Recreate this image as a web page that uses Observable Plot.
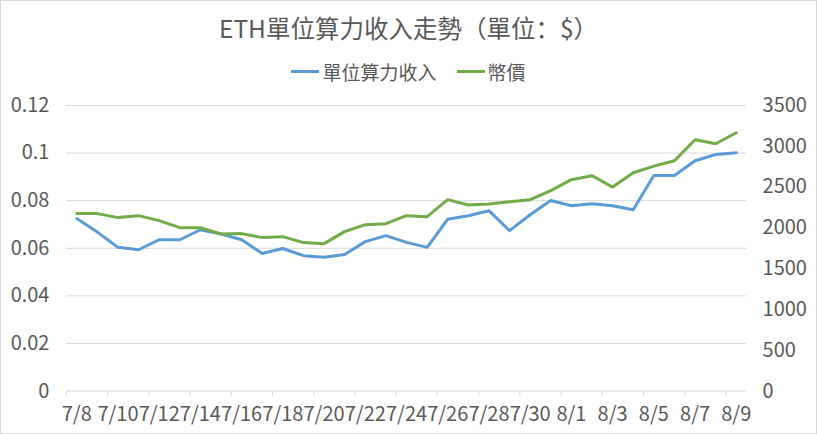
<!DOCTYPE html>
<html><head><meta charset="utf-8">
<script src="https://cdn.jsdelivr.net/npm/d3@7"></script>
<script src="https://cdn.jsdelivr.net/npm/@observablehq/plot@0.6"></script>
<style>
html,body{margin:0;padding:0;background:#fff;}
#chart{width:817px;height:434px;box-sizing:border-box;border:1px solid #d9d9d9;position:relative;overflow:hidden;font-family:"Noto Sans CJK SC","Noto Sans",sans-serif;color:#595959;}
#title{position:absolute;left:0;top:9px;width:100%;text-align:center;font-size:24.5px;line-height:36px;white-space:nowrap;}
#legend{position:absolute;left:0;top:56px;width:100%;height:28px;display:flex;justify-content:center;align-items:center;font-size:19px;white-space:nowrap;}
.item{display:flex;align-items:center;}
.sw{display:inline-block;width:28px;height:3px;margin-right:3px;}
#plot{position:absolute;left:-1px;top:89px;}
</style></head>
<body>
<div id="chart">
  <div id="title">ETH單位算力收入走勢（單位：$）</div>
  <div id="legend"></div>
  <div id="plot"></div>
</div>
<script>
const dates = ["7/8","7/9","7/10","7/11","7/12","7/13","7/14","7/15","7/16","7/17","7/18","7/19","7/20","7/21","7/22","7/23","7/24","7/25","7/26","7/27","7/28","7/29","7/30","7/31","8/1","8/2","8/3","8/4","8/5","8/6","8/7","8/8","8/9"];
const income = [0.0725,0.0668,0.0604,0.0594,0.0636,0.0636,0.0678,0.0660,0.0636,0.0578,0.0599,0.0569,0.0562,0.0574,0.0628,0.0653,0.0625,0.0604,0.0722,0.0737,0.0758,0.0674,0.0741,0.0801,0.0779,0.0787,0.0779,0.0762,0.0906,0.0906,0.0968,0.0994,0.1001];
const price = [2175,2175,2126,2150,2089,2003,2003,1925,1930,1881,1893,1820,1807,1954,2040,2052,2150,2138,2346,2280,2292,2321,2346,2456,2591,2640,2500,2676,2757,2823,3080,3031,3166];
const leftTicks = [0,0.02,0.04,0.06,0.08,0.1,0.12];
const rightTicks = [0,500,1000,1500,2000,2500,3000,3500];
const seriesNames = ["單位算力收入","幣價"];
const colors = ["#5B9BD5","#70AD47"];

const k = 0.12 / 3500;
const data = dates.map((d, i) => ({i, d, income: income[i], price: price[i] * k}));
const boundaries = d3.range(-0.5, dates.length - 1, 2);
const labelIdx = d3.range(0, dates.length, 2);

const legend = document.getElementById("legend");
seriesNames.forEach((n, j) => {
  const it = document.createElement("div");
  it.className = "item";
  if (j > 0) it.style.marginLeft = "20px";
  it.innerHTML = `<span class="sw" style="background:${colors[j]}"></span><span>${n}</span>`;
  legend.appendChild(it);
});

const chart = Plot.plot({
  width: 817, height: 345,
  marginTop: 15, marginBottom: 44, marginLeft: 66, marginRight: 70,
  x: {domain: [-0.5, dates.length - 0.5]},
  y: {domain: [0, 0.12]},
  style: {fontFamily: '"Noto Sans CJK SC","Noto Sans",sans-serif', fontSize: "20px", color: "#595959", background: "transparent"},
  marks: [
    Plot.gridY(leftTicks, {stroke: "#d9d9d9", strokeOpacity: 1, strokeWidth: 1}),
    Plot.axisY(leftTicks, {anchor: "left", tickSize: 0, tickPadding: 17, tickFormat: d => String(+d.toFixed(2)), label: null}),
    Plot.axisY(rightTicks.map(v => v * k), {anchor: "right", tickSize: 0, tickPadding: 16, tickFormat: (d, i) => String(rightTicks[i]), label: null}),
    Plot.axisX(boundaries, {anchor: "bottom", tickSize: 5, stroke: "#d9d9d9", strokeOpacity: 1, tickFormat: () => "", label: null}),
    Plot.axisX(labelIdx, {anchor: "bottom", tickSize: 0, tickPadding: 16, tickFormat: i => dates[i], label: null}),
    Plot.line(data, {x: "i", y: "income", stroke: colors[0], strokeWidth: 3, strokeLinejoin: "round", strokeLinecap: "round"}),
    Plot.line(data, {x: "i", y: "price", stroke: colors[1], strokeWidth: 3, strokeLinejoin: "round", strokeLinecap: "round"})
  ]
});
document.getElementById("plot").appendChild(chart);
</script>
</body></html>
